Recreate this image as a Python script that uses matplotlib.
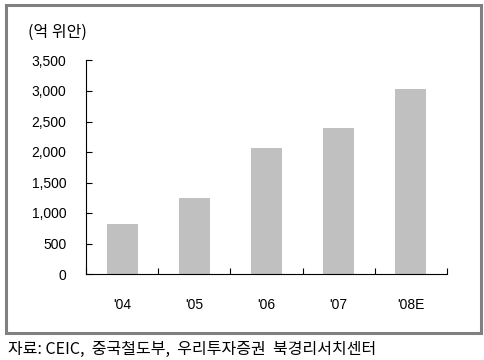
import matplotlib
matplotlib.use("Agg")
import matplotlib.pyplot as plt
from matplotlib.patches import Rectangle

plt.rcParams['font.family'] = ['Liberation Sans', 'Noto Sans CJK KR']

# data
years = ["'04", "'05", "'06", "'07", "'08E"]
values = [820, 1245, 2060, 2390, 3030]
yticks = [0, 500, 1000, 1500, 2000, 2500, 3000, 3500]

fig = plt.figure(figsize=(4.85, 3.6), dpi=100)

# outer grey frame
fig.patches.append(Rectangle((6 / 485, 1 - 333 / 360), 475 / 485, 328 / 360,
                             transform=fig.transFigure, fill=False,
                             edgecolor='#808080', linewidth=2.2))

ax = fig.add_axes([86 / 485, 1 - 274 / 360, 361 / 485, 213.5 / 360])
x = range(len(years))
ax.bar(x, values, width=0.43, color='#c0c0c0')

ax.set_xlim(-0.5, len(years) - 0.5)
ax.set_ylim(0, 3500)
ax.set_yticks(yticks)
ax.set_yticklabels([f"{v:,}" for v in yticks])
ax.set_xticks(list(x))
ax.set_xticklabels(years)
ax.set_xticks([i - 0.5 for i in range(len(years) + 1)], minor=True)

ax.tick_params(axis='y', direction='in', length=4, width=0.8, labelsize=10, pad=14)
ax.tick_params(axis='x', which='major', length=0, labelsize=10, pad=17)
ax.tick_params(axis='x', which='minor', direction='in', length=4, width=0.8)

for s in ['top', 'right']:
    ax.spines[s].set_visible(False)
for s in ['left', 'bottom']:
    ax.spines[s].set_linewidth(0.8)

fig.text(28 / 485, 1 - 32 / 360, "(억 위안)", fontsize=11.5, va='center', ha='left',
         family=['Noto Sans CJK KR'])
fig.text(8 / 485, 1 - 349 / 360, "자료: CEIC,  중국철도부,  우리투자증권  북경리서치센터",
         fontsize=11.5, va='center', ha='left', family=['Noto Sans CJK KR'])

fig.savefig("out.png", dpi=100)
